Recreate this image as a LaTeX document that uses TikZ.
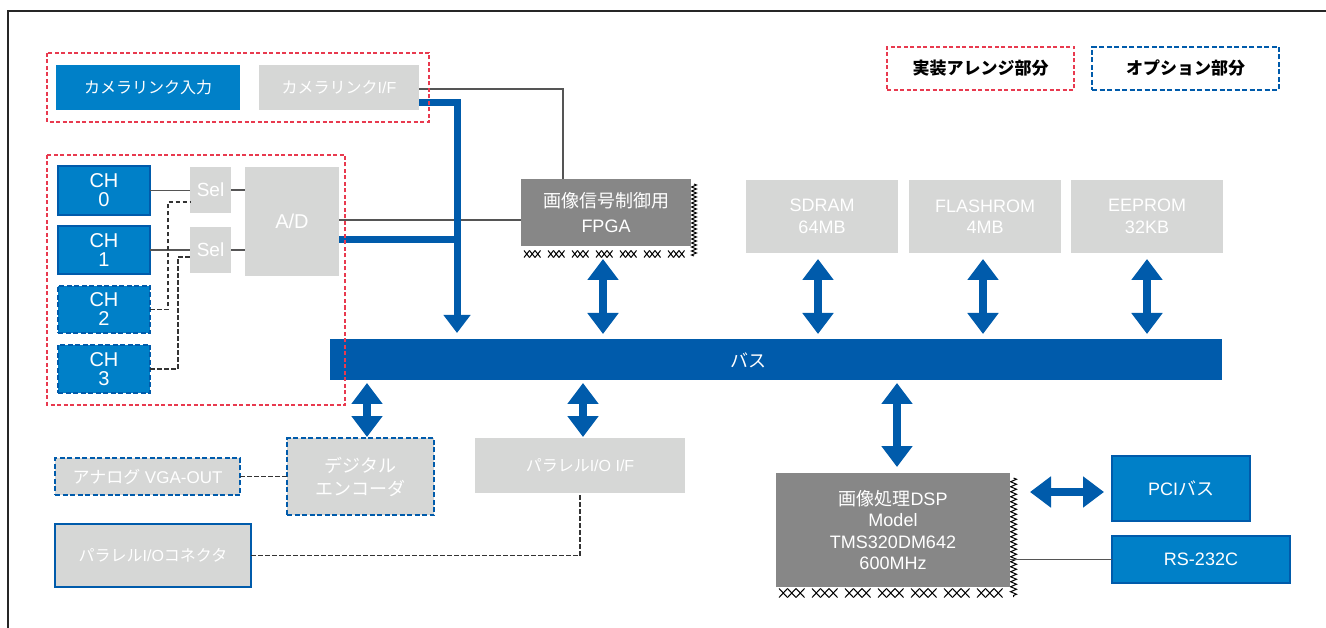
\documentclass[tikz,border=0pt]{standalone}
\usepackage{fontspec}
\setmainfont{Liberation Sans}
\newfontfamily\jpf{Noto Sans CJK JP}
\usetikzlibrary{arrows.meta,calc,decorations.pathmorphing}
\newcommand\jp[1]{{\jpf #1}}
\definecolor{cblue}{HTML}{0080C8}
\definecolor{dblue}{HTML}{005BAB}
\definecolor{lgray}{HTML}{D6D7D6}
\definecolor{dgray}{HTML}{878787}
\definecolor{rdash}{HTML}{E83A4F}
\definecolor{lcol}{HTML}{555555}
\newcommand\bx[7]{\node[#6, minimum width={(#4)-(#2)}, minimum height={(#5)-(#3)}] (#1) at ({((#2)+(#4))/2},{((#3)+(#5))/2}) {#7};}
% crosses: x0, y, pitch, cross width, cross height, last group index
\newcommand\shx[6]{\foreach \g in {0,...,#6} {\foreach \k in {0,1,2} {\draw[xl] ({#1+\g*#3+\k*#4},{#2-#5/2}) -- ++(#4,#5) ++(-#4,0) -- ++(#4,-#5);}}}
\tikzset{
 base/.style={inner sep=0pt, outer sep=0pt, align=center, text=white, font=\fontsize{18}{21.5}\selectfont},
 fb/.style={base, fill=cblue},
 fbs/.style={base, fill=cblue, draw=dblue, line width=2.5pt},
 fbd/.style={fbs, dash pattern=on 5pt off 2.5pt},
 fg/.style={base, fill=lgray},
 fgd/.style={fg, draw=dblue, line width=2.5pt, dash pattern=on 5pt off 2.5pt},
 fgs/.style={fg, draw=dblue, line width=2.5pt},
 fd/.style={base, fill=dgray},
 grp/.style={draw=rdash, line width=1.2pt, dash pattern=on 4pt off 2.5pt},
 leg/.style={base, text=black, font=\jpf\bfseries\fontsize{17}{20}\selectfont},
 thinl/.style={draw=lcol, line width=1.5pt},
 dl/.style={draw=black!80, line width=1.2pt, dash pattern=on 4.5pt off 2.5pt},
 bthick/.style={draw=dblue, line width=7pt},
 darrow/.style={draw=dblue, fill=dblue, line width=8pt, {Triangle[width=30pt,length=21pt]}-{Triangle[width=30pt,length=21pt]}},
 xl/.style={draw=black, line width=1pt},
 chf/.style={font=\fontsize{20}{19}\selectfont},
}
\begin{document}
\begin{tikzpicture}[x=1pt,y=-1pt]
\useasboundingbox (0,0) rectangle (1326,628);
\draw[line width=1.2pt, black!85] (8,640) -- (8,11) -- (1340,11);

% camera link
\bx{camin}{56}{65}{240}{110}{fb, font=\jpf\fontsize{16}{20}\selectfont}{カメラリンク入力}
\bx{camif}{259}{65}{419}{110}{fg, font=\fontsize{16}{20}\selectfont}{\jp{カメラリンク}I/F}

% channels
\bx{ch0}{58}{166}{150}{215}{fbs, chf}{CH\\0}
\bx{ch1}{58}{226}{150}{274}{fbs, chf}{CH\\1}
\bx{ch2}{58}{286}{150}{333}{fbd, chf}{CH\\2}
\bx{ch3}{58}{345}{150}{393}{fbd, chf}{CH\\3}
\bx{sel1}{190}{167}{231}{213}{fg, font=\fontsize{19}{20}\selectfont}{Sel}
\bx{sel2}{190}{227}{231}{273}{fg, font=\fontsize{19}{20}\selectfont}{Sel}
\bx{ad}{245}{167}{339}{276}{fg, font=\fontsize{20}{20}\selectfont}{A/D}

% FPGA
\shx{524}{254}{24}{5.5}{7}{6}
\draw[xl, decoration={zigzag, segment length=4pt, amplitude=2.5pt}, decorate] (694,184) -- (694,256);
\bx{fpga}{521}{179}{691}{246}{fd, font=\fontsize{18}{25}\selectfont}{\jp{画像信号制御用}\\FPGA}

% memories
\bx{sdram}{746}{180}{898}{253}{fg}{SDRAM\\64MB}
\bx{flash}{909}{180}{1061}{253}{fg}{FLASHROM\\4MB}
\bx{eeprom}{1071}{180}{1223}{253}{fg}{EEPROM\\32KB}

% bus
\bx{bus}{330}{339}{1222}{380}{base, fill=dblue}{}
\node[base, font=\jpf\fontsize{18}{20}\selectfont] (buslbl) at (748,360) {バス};

% lower blocks
\bx{vga}{55}{458}{240}{495}{fgd, font=\fontsize{17}{20}\selectfont}{\jp{アナログ} VGA-OUT}
\bx{enc}{287}{438}{434}{515}{fgd, font=\jpf\fontsize{18}{23}\selectfont}{デジタル\\エンコーダ}
\bx{pio}{475}{438}{685}{493}{fg, font=\fontsize{16}{20}\selectfont}{\jp{パラレル}I/O I/F}
\bx{conn}{55}{524}{251}{587}{fgs, font=\fontsize{16}{20}\selectfont}{\jp{パラレル}I/O\jp{コネクタ}}

% DSP
\shx{779}{593}{33}{8.5}{9}{6}
\draw[xl, decoration={zigzag, segment length=5pt, amplitude=3pt}, decorate] (1013.5,478) -- (1013.5,597);
\bx{dsp}{776}{473}{1010}{587}{fd}{\jp{画像処理}DSP\\Model\\TMS320DM642\\600MHz}
\bx{pci}{1112}{456}{1250}{521}{fbs}{PCI\jp{バス}}
\bx{rs}{1112}{536}{1290}{583}{fbs}{RS-232C}

% legend
\bx{leg1}{887}{47}{1074}{90}{leg, draw=rdash, line width=1.2pt, dash pattern=on 4pt off 2.5pt}{実装アレンジ部分}
\bx{leg2}{1092}{47}{1279}{90}{leg, draw=dblue, line width=2.5pt, dash pattern=on 5pt off 2.5pt}{オプション部分}

% helper coordinates
\coordinate (adr) at ($(ad.east)+(0,-1.5)$);
\coordinate (adb) at ($(ad.east)+(0,18.5)$);
\coordinate (cifa) at ($(camif.east)+(0,1.5)$);
\coordinate (cifb) at ($(camif.east)+(0,15.5)$);
\coordinate (fpgatop) at ($(fpga.north west)+(42,0)$);
\coordinate (sl1) at ($(sel1.west)+(0,12)$);
\coordinate (sl2) at ($(sel2.west)+(0,7)$);

% thin connectors
\draw[thinl] (ch0.east) -- (ch0.east -| sel1.west);
\draw[thinl] (sel1.east) -- (sel1.east -| ad.west);
\draw[thinl] (ch1.east) -- (ch1.east -| sel2.west);
\draw[thinl] (sel2.east) -- (sel2.east -| ad.west);
\draw[dl] (ch2.east) -- ++(18,0) |- (sl1);
\draw[dl] (ch3.east) -- ++(28,0) |- (sl2);
\draw[thinl] (adr) -- (adr -| fpga.west);
\draw[thinl] (cifa) -| (fpgatop);
\draw[dl] (vga.east) -- (vga.east -| enc.west);
\draw[dl] (conn.east) -| (pio.south);
\draw[thinl] (dsp.east |- rs.west) -- (rs.west);

% thick bus feeds
\coordinate (busA) at (457,333);
\coordinate (jA) at (457,240);
\draw[bthick] (adb) -- (jA);
\draw[bthick, -{Triangle[width=26pt,length=18pt]}] (cifb) -| (busA);

% double arrows
\coordinate (fa) at ($(fpga.south)+(-3,0)$);
\coordinate (sa) at ($(sdram.south)+(-4,0)$);
\coordinate (fla) at ($(flash.south)+(-2,0)$);
\draw[darrow, shorten <=13pt, shorten >=5pt] (fa) -- (fa |- bus.north);
\draw[darrow, shorten <=6pt, shorten >=5pt] (sa) -- (sa |- bus.north);
\draw[darrow, shorten <=6pt, shorten >=5pt] (fla) -- (fla |- bus.north);
\draw[darrow, shorten <=6pt, shorten >=5pt] (eeprom.south) -- (eeprom.south |- bus.north);
\coordinate (e1) at ($(enc.north)+(6.5,0)$);
\draw[darrow, shorten <=3pt, shorten >=1pt] (e1 |- bus.south) -- (e1);
\coordinate (p1) at ($(pio.north)+(3,0)$);
\draw[darrow, shorten <=3pt, shorten >=1pt] (p1 |- bus.south) -- (p1);
\coordinate (d1) at ($(dsp.north)+(4,0)$);
\draw[darrow, shorten <=3pt, shorten >=6pt] (d1 |- bus.south) -- (d1);
\coordinate (pw) at ($(pci.west)+(0,3.5)$);
\draw[darrow, shorten <=20pt, shorten >=8pt] (pw -| dsp.east) -- (pw);

% grouping frames
\draw[grp] (47,53) rectangle (429,122);
\draw[grp] (47,155) rectangle (345,405);
\end{tikzpicture}
\end{document}
